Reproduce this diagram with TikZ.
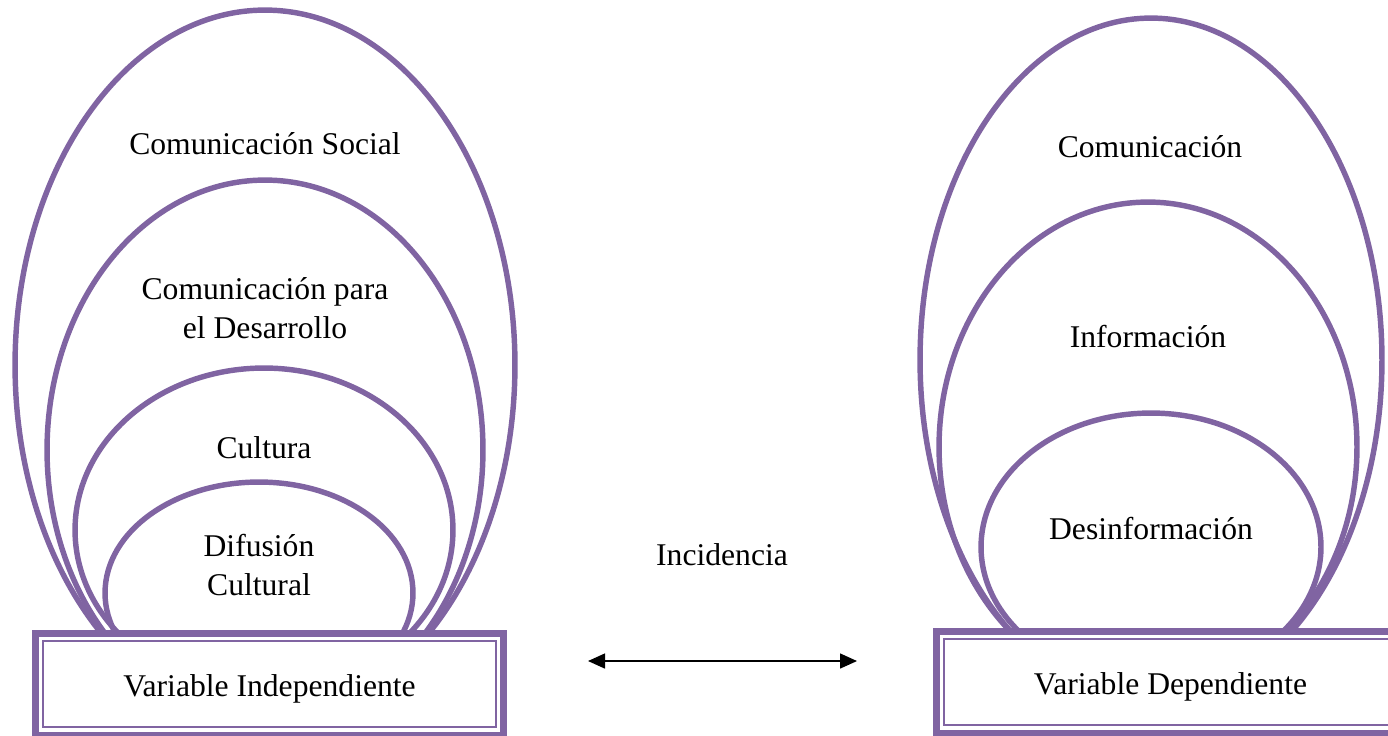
\documentclass[tikz,border=0pt]{standalone}
\usepackage{fontspec}
\setmainfont{Liberation Serif}
\usetikzlibrary{arrows.meta, positioning}
\definecolor{mainPurple}{HTML}{8064A2}

\begin{document}
\begin{tikzpicture}[x=0.02cm, y=-0.02cm, >={Triangle[length=0.34cm, width=0.3cm]},
    ring/.style={draw=mainPurple, line width=3.1pt},
    txt/.style={font=\fontsize{18}{22.5}\selectfont, align=center},
    varbox/.style={txt, draw=mainPurple, fill=white, line width=4pt, minimum width=9.36cm, minimum height=2.04cm, text height=0.6cm, text depth=0.14cm}]
    \useasboundingbox (0,0) rectangle (1388,735);

    \draw[ring] (265,365) ellipse [x radius=5cm, y radius=7.1cm];
    \draw[ring] (265,450) ellipse [x radius=4.36cm, y radius=5.4cm];
    \draw[ring] (264,530) ellipse [x radius=3.78cm, y radius=3.24cm];
    \draw[ring] (259,593) ellipse [x radius=3.08cm, y radius=2.22cm];

    \draw[ring] (1151,360) ellipse [x radius=4.62cm, y radius=6.84cm];
    \draw[ring] (1148,447) ellipse [x radius=4.18cm, y radius=4.9cm];
    \draw[ring] (1151,547) ellipse [x radius=3.4cm, y radius=2.68cm];

    \node[txt] (csoc) at (265,144) {Comunicación Social};
    \node[txt] (cdes) at (265,308) {Comunicación para\\el Desarrollo};
    \node[txt] (cult) at (264,448) {Cultura};
    \node[txt] (difu) at (259,565) {Difusión\\Cultural};
    \node[txt] (comu) at (1150,147) {Comunicación};
    \node[txt] (info) at (1148,337) {Información};
    \node[txt] (desi) at (1151,529) {Desinformación};

    \node[varbox] (indep) at (269.5,684.5) {Variable Independiente};
    \node[varbox] (dep) at (1170.5,682.5) {Variable Dependiente};
    \draw[mainPurple, line width=1.1pt] ([shift={(0.22cm,-0.22cm)}]indep.north west) rectangle ([shift={(-0.22cm,0.24cm)}]indep.south east);
    \draw[mainPurple, line width=1.1pt] ([shift={(0.22cm,-0.22cm)}]dep.north west) rectangle ([shift={(-0.22cm,0.24cm)}]dep.south east);

    \coordinate (incL) at (588,661);
    \coordinate (incR) at (857,661);
    \draw[<->, line width=0.85pt] (incL) -- (incR);
    \node[txt] (inc) at (722,555) {Incidencia};
\end{tikzpicture}
\end{document}
